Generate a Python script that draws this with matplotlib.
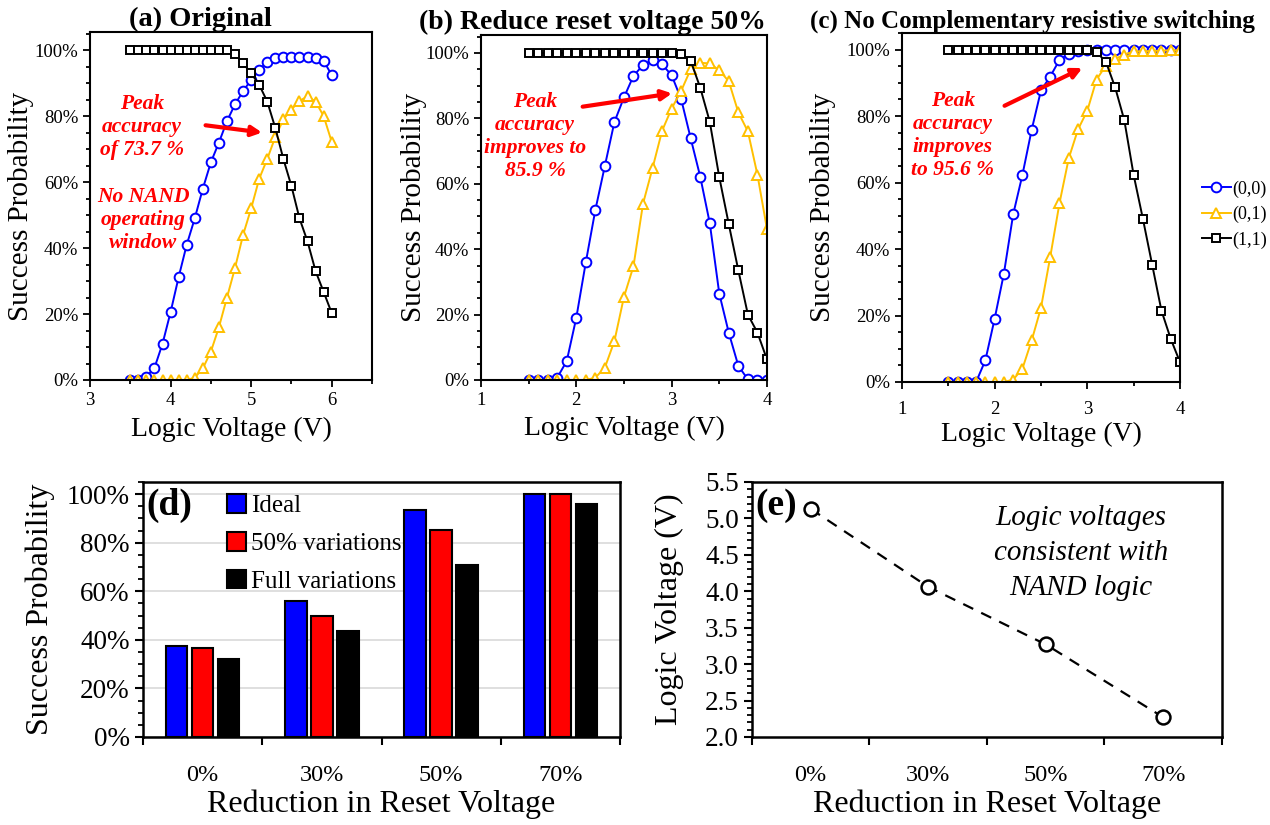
import numpy as np
import matplotlib
matplotlib.use("Agg")
import matplotlib.pyplot as plt
from matplotlib.ticker import MultipleLocator, PercentFormatter, FixedLocator, NullFormatter

plt.rcParams['font.family'] = ['Liberation Serif', 'DejaVu Serif']

# ---- data: success probability (%) vs logic voltage (V) ----
volt_a = [3.5, 3.6, 3.7, 3.8, 3.9, 4.0, 4.1, 4.2, 4.3, 4.4, 4.5, 4.6, 4.7,
          4.8, 4.9, 5.0, 5.1, 5.2, 5.3, 5.4, 5.5, 5.6, 5.7, 5.8, 5.9, 6.0]
a_00 = [0, 0, 1.0, 3.7, 11.0, 20.6, 31.2, 41.0, 49.0, 58.0, 66.0, 72.0, 78.5,
        83.6, 87.6, 91.0, 94.0, 96.5, 97.6, 97.8, 97.8, 97.9, 98.0, 97.6, 96.8, 92.4]
a_01 = [0, 0, 0, 0, 0, 0, 0, 0, 0.7, 3.5, 8.6, 16.0, 25.0,
        34.0, 44.0, 52.0, 61.0, 67.0, 73.7, 79.0, 82.0, 84.6, 86.0, 84.4, 80.0, 72.2]
a_11 = [100, 100, 100, 100, 100, 100, 100, 100, 100, 100, 100, 100, 100,
        98.8, 96.0, 93.0, 89.5, 84.4, 76.4, 67.0, 58.8, 49.0, 42.0, 33.0, 26.7, 20.3]

volt_bc = [1.5, 1.6, 1.7, 1.8, 1.9, 2.0, 2.1, 2.2, 2.3, 2.4, 2.5, 2.6, 2.7,
           2.8, 2.9, 3.0, 3.1, 3.2, 3.3, 3.4, 3.5, 3.6, 3.7, 3.8, 3.9, 4.0]
b_00 = [0, 0, 0, 0.7, 5.8, 19.0, 36.0, 52.0, 65.5, 78.9, 86.4, 93.0, 96.3,
        97.9, 96.5, 93.2, 85.9, 73.9, 62.2, 48.0, 26.4, 14.4, 4.3, 0.2, 0, 0]
b_01 = [0, 0, 0, 0, 0, 0, 0, 0.7, 3.8, 11.9, 25.4, 34.8, 53.9,
        64.8, 76.2, 83.0, 88.4, 95.0, 97.0, 96.8, 94.7, 91.3, 81.8, 76.0, 62.8, 46.2]
b_11 = [100, 100, 100, 100, 100, 100, 100, 100, 100, 100, 100, 100, 100,
        100, 100, 100, 99.6, 97.6, 89.4, 79.0, 62.0, 47.6, 33.5, 20.0, 14.5, 6.3]

c_00 = [0, 0, 0, 0, 6.5, 19.0, 32.6, 50.4, 62.3, 75.9, 87.7, 91.9, 96.9,
        98.7, 99.5, 100, 100, 100, 100, 100, 100, 100, 100, 100, 100, 100]
c_01 = [0, 0, 0, 0, 0, 0, 0, 0.7, 4.0, 12.5, 22.3, 37.6, 53.8,
        67.3, 76.0, 81.6, 91.0, 95.2, 97.2, 98.5, 99.5, 99.5, 99.6, 99.7, 99.8, 99.8]
c_11 = [100, 100, 100, 100, 100, 100, 100, 100, 100, 100, 100, 100, 100,
        100, 100, 100, 99.2, 96.4, 88.7, 78.7, 62.3, 49.1, 35.3, 21.5, 13.0, 6.0]

# ---- data: summary panels ----
reductions = ['0%', '30%', '50%', '70%']
ideal = [37.5, 55.9, 93.5, 100]
var50 = [36.7, 49.9, 85.2, 100]
full_var = [32.2, 43.6, 71.0, 95.9]
logic_v = [5.13, 4.06, 3.27, 2.27]

BLUE = '#0000FF'
GOLD = '#FFC000'
RED = '#FF0000'


def sweep_panel(ax, volts, s00, s01, s11, xlim, title, title_x, title_size):
    ax.plot(volts, s00, '-o', color=BLUE, mfc='white', ms=7, mew=1.4, lw=1.4, label='(0,0)')
    ax.plot(volts, s01, '-^', color=GOLD, mfc='white', ms=7.5, mew=1.4, lw=1.4, label='(0,1)')
    ax.plot(volts, s11, '-s', color='black', mfc='white', ms=6, mew=1.4, lw=1.4, label='(1,1)')
    ax.set_xlim(*xlim)
    ax.set_ylim(0, 105.5)
    ax.xaxis.set_major_locator(MultipleLocator(1))
    ax.xaxis.set_minor_locator(MultipleLocator(0.5))
    ax.yaxis.set_major_locator(MultipleLocator(20))
    ax.yaxis.set_minor_locator(MultipleLocator(5))
    ax.yaxis.set_major_formatter(PercentFormatter(100, decimals=0))
    ax.tick_params(which='both', direction='out', width=1.3, labelsize=13.5)
    ax.tick_params(which='major', length=5)
    ax.tick_params(which='minor', length=3)
    for s in ax.spines.values():
        s.set_linewidth(1.5)
    ax.set_xlabel('Logic Voltage (V)', fontsize=20)
    ax.set_ylabel('Success Probability', fontsize=21)
    ax.set_title(title, fontsize=title_size, fontweight='bold', x=title_x, pad=4)


def red_text(ax, text, tx, ty):
    ax.text(tx, ty, text, transform=ax.transAxes, ha='center', va='center',
            color=RED, fontsize=15.5, fontweight='bold', fontstyle='italic', linespacing=1.2)


def red_arrow(ax, arrow_from, arrow_to):
    ax.annotate('', xy=arrow_to, xytext=arrow_from, xycoords='axes fraction',
                textcoords='axes fraction',
                arrowprops=dict(arrowstyle='-|>,head_length=0.6,head_width=0.3',
                                color=RED, lw=3))


fig = plt.figure(figsize=(12.7, 8.25), dpi=100)

ax_a = fig.add_axes([0.0709, 0.5394, 0.2220, 0.4218])
ax_b = fig.add_axes([0.3787, 0.5394, 0.2252, 0.4182])
ax_c = fig.add_axes([0.7102, 0.5370, 0.2189, 0.4230])
ax_d = fig.add_axes([0.1126, 0.1067, 0.3756, 0.3091])
ax_e = fig.add_axes([0.5921, 0.1067, 0.3701, 0.3091])

sweep_panel(ax_a, volt_a, a_00, a_01, a_11, (3, 6.5), '(a) Original', 0.39, 20.5)
sweep_panel(ax_b, volt_bc, b_00, b_01, b_11, (1, 4), '(b) Reduce reset voltage 50%', 0.39, 20)
sweep_panel(ax_c, volt_bc, c_00, c_01, c_11, (1, 4), '(c) No Complementary resistive switching', 0.47, 18)
ax_c.set_ylim(0, 105)

ax_a.yaxis.set_label_coords(-0.20, 0.5)
ax_a.xaxis.set_label_coords(0.5, -0.105)
ax_b.yaxis.set_label_coords(-0.19, 0.5)
ax_b.xaxis.set_label_coords(0.5, -0.105)
ax_c.yaxis.set_label_coords(-0.237, 0.5)
ax_c.xaxis.set_label_coords(0.5, -0.115)
ax_c.tick_params(axis='x', pad=9)

red_text(ax_a, 'Peak\naccuracy\nof 73.7 %', 0.184, 0.727)
red_arrow(ax_a, (0.40, 0.733), (0.62, 0.71))
red_text(ax_a, 'No NAND\noperating\nwindow', 0.188, 0.46)
red_text(ax_b, 'Peak\naccuracy\nimproves to\n85.9 %', 0.189, 0.707)
red_arrow(ax_b, (0.346, 0.791), (0.678, 0.832))
red_text(ax_c, 'Peak\naccuracy\nimproves\nto 95.6 %', 0.183, 0.705)
red_arrow(ax_c, (0.36, 0.788), (0.658, 0.903))

ax_c.legend(loc='center left', bbox_to_anchor=(1.02, 0.48), frameon=False,
            fontsize=13, handlelength=1.6, handletextpad=0.1, labelspacing=0.45)

# ---- (d) bar chart ----
x = np.arange(len(reductions))
bw = 0.18
gap = 0.218
ax_d.bar(x - gap, ideal, bw, color=BLUE, edgecolor='black', lw=1.5, label='Ideal', zorder=3)
ax_d.bar(x, var50, bw, color=RED, edgecolor='black', lw=1.5, label='50% variations', zorder=3)
ax_d.bar(x + gap, full_var, bw, color='black', edgecolor='black', lw=1.5, label='Full variations', zorder=3)
ax_d.set_xlim(-0.5, len(reductions) - 0.5)
ax_d.set_ylim(0, 105)
ax_d.yaxis.set_major_locator(MultipleLocator(20))
ax_d.yaxis.set_minor_locator(MultipleLocator(5))
ax_d.yaxis.set_major_formatter(PercentFormatter(100, decimals=0))
ax_d.grid(axis='y', color='#d9d9d9', lw=1.2, zorder=0)
ax_d.set_ylabel('Success Probability', fontsize=23)
ax_d.yaxis.set_label_coords(-0.185, 0.5)
ax_d.legend(loc='upper left', bbox_to_anchor=(0.145, 1.01), frameon=False, fontsize=18,
            handlelength=0.75, handleheight=0.75, handletextpad=0.2, labelspacing=0.6,
            borderaxespad=0.2)
ax_d.text(0.008, 0.975, '(d)', transform=ax_d.transAxes, ha='left', va='top',
          fontsize=27, fontweight='bold')

# ---- (e) logic voltage ----
ax_e.plot(x, logic_v, '--o', color='black', mfc='white', ms=10, mew=1.8, lw=1.6, dashes=(5, 4))
ax_e.set_xlim(-0.5, len(reductions) - 0.5)
ax_e.set_ylim(2.0, 5.5)
ax_e.yaxis.set_major_locator(MultipleLocator(0.5))
ax_e.yaxis.set_minor_locator(MultipleLocator(0.1))
ax_e.yaxis.set_major_formatter(plt.FormatStrFormatter('%.1f'))
ax_e.set_ylabel('Logic Voltage (V)', fontsize=23)
ax_e.yaxis.set_label_coords(-0.145, 0.5)
ax_e.text(0.70, 0.72, 'Logic voltages\nconsistent with\nNAND logic', transform=ax_e.transAxes,
          ha='center', va='center', fontsize=21, fontstyle='italic', linespacing=1.45)
ax_e.text(0.008, 0.975, '(e)', transform=ax_e.transAxes, ha='left', va='top',
          fontsize=27, fontweight='bold')

for ax in (ax_d, ax_e):
    # category labels centred, tick marks on the category boundaries
    ax.xaxis.set_major_locator(FixedLocator(np.arange(len(reductions) + 1) - 0.5))
    ax.xaxis.set_major_formatter(NullFormatter())
    ax.set_xticks(x, reductions, minor=True)
    ax.tick_params(axis='x', which='minor', length=0, labelsize=17.5, pad=20)
    ax.tick_params(axis='x', which='major', length=6, width=1.5, direction='out')
    ax.tick_params(axis='y', which='major', length=6, width=1.5, direction='out', labelsize=19.5)
    ax.tick_params(axis='y', which='minor', length=3.5, width=1.3, direction='out')
    ax.set_xlabel('Reduction in Reset Voltage', fontsize=23)
    ax.xaxis.set_label_coords(0.5, -0.205)
    for s in ax.spines.values():
        s.set_linewidth(1.8)

fig.savefig('out.png', dpi=100)
